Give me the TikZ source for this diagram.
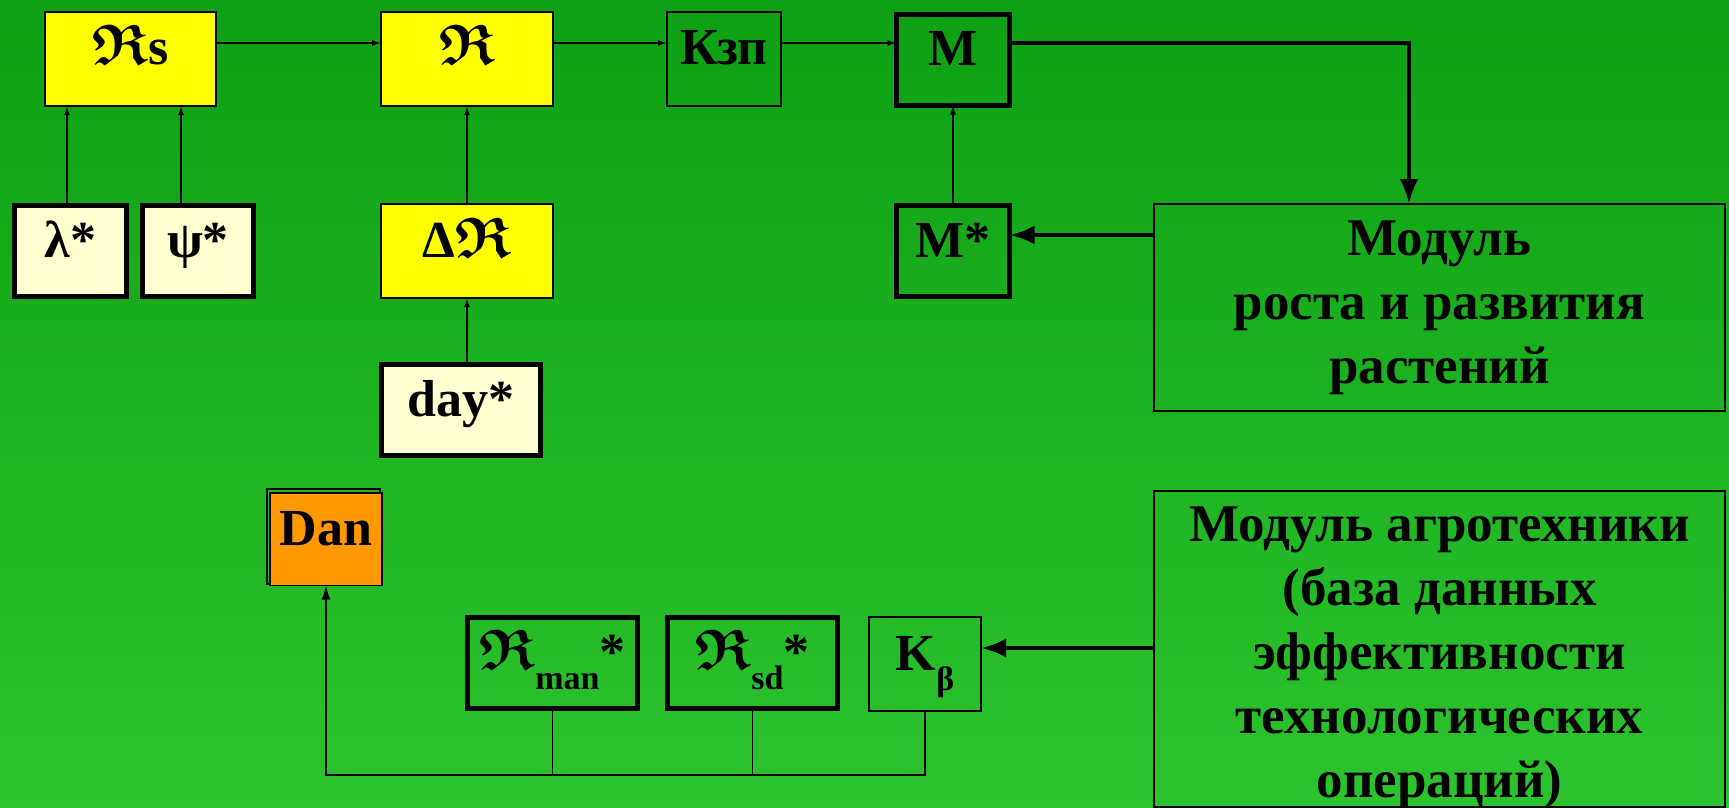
\documentclass[tikz,border=0pt]{standalone}
\usepackage{fontspec}
\setmainfont{Liberation Serif}
\usetikzlibrary{arrows.meta,calc}
\DeclareFontFamily{U}{myfrak}{}
\DeclareFontShape{U}{myfrak}{b}{n}{<-> s*[1.1] eufb10}{}
\newcommand\frakR{{\usefont{U}{myfrak}{b}{n}R}}
\newcommand\lab{\fontsize{52}{60}\selectfont\bfseries}
\newcommand\sublab{\fontsize{34}{36}\selectfont\bfseries}
\newcommand\modfont{\fontsize{53}{64}\selectfont\bfseries}
\definecolor{bgtop}{RGB}{14,160,20}
\definecolor{bgbot}{RGB}{44,196,46}
\definecolor{yel}{RGB}{255,255,0}
\definecolor{pale}{RGB}{255,255,208}
\definecolor{orng}{RGB}{255,153,0}
\tikzset{
  box/.style={draw=black, line width=1.8pt, inner sep=0pt, outer sep=0pt,
    anchor=north west, text height=53pt, text depth=41pt, font=\lab},
  heavy/.style={box, line width=5pt, text height=51.5pt, text depth=39.5pt},
  modbox/.style={draw=black, line width=2pt, inner sep=0pt, outer sep=0pt, anchor=north west},
  modtext/.style={inner sep=0pt, align=center, font=\modfont, anchor=north},
  thinarrow/.style={line width=1.6pt, -{Latex[length=9pt,width=6pt]}},
  fatarrow/.style={line width=4.5pt, -{Latex[length=25pt,width=19pt]}},
  wire/.style={line width=1.6pt},
}
\begin{document}
\begin{tikzpicture}[x=1pt,y=-1pt]
\shade[top color=bgtop, bottom color=bgbot] (0,0) rectangle (1729,808);
\useasboundingbox (0,0) rectangle (1729,808);

% top row
\node[box, fill=yel, minimum width=171pt] (Rs) at (45,12) {\frakR s};
\node[box, fill=yel, minimum width=172pt] (R) at (381,12) {\frakR};
\node[box, minimum width=114pt] (Kzp) at (667,12) {Кзп};
\node[heavy, minimum width=113pt] (M) at (896.5,14.5) {M};

% second row
\node[heavy, fill=pale, minimum width=112pt] (lam) at (14.5,205.5) {λ*};
\node[heavy, fill=pale, minimum width=111pt] (psi) at (142.5,205.5) {ψ*};
\node[box, fill=yel, minimum width=172pt] (dR) at (381,204) {Δ\frakR};
\node[heavy, fill=pale, minimum width=159pt] (day) at (381.5,364.5) {day*};
\node[heavy, minimum width=113pt] (Ms) at (896.5,205.5) {M*};

% modules
\node[modbox, minimum width=571pt, minimum height=207pt] (RG) at (1154,204) {};
\node[modtext] (RGt) at ($(RG.north)+(0,17)$) {Модуль\\роста и развития\\растений};
\node[modbox, minimum width=571pt, minimum height=316pt] (AG) at (1154,491) {};
\node[modtext] (AGt) at ($(AG.north)+(0,16)$) {Модуль агротехники\\(база данных\\эффективности\\технологических\\операций)};

% bottom
\draw[line width=1.2pt] (267,489) rectangle (380,584);
\node[box, fill=orng, minimum width=112pt, text height=52pt, text depth=40.5pt] (Dan) at (270,493) {Dan};
\node[heavy, minimum width=170pt] (Rman) at (467.5,617.5) {\frakR\raisebox{-20pt}{\sublab man}*};
\node[heavy, minimum width=170pt] (Rsd) at (667.5,617.5) {\frakR\raisebox{-20pt}{\sublab sd}*};
\node[box, minimum width=112pt] (Kb) at (869,617) {K\raisebox{-20pt}{\sublab β}};

% connectors
\coordinate (row1) at (0,43);
\coordinate (turn) at (1409,43);
\coordinate (row2) at (0,235);
\coordinate (row3) at (0,648);
\coordinate (bus) at (0,775);
\coordinate (a1) at (67,0);
\coordinate (a2) at (181,0);

\draw[thinarrow] (Rs.east |- row1) -- (R.west |- row1);
\draw[thinarrow] (R.east |- row1) -- (Kzp.west |- row1);
\draw[thinarrow] (Kzp.east |- row1) -- (M.west |- row1);
\draw[fatarrow] (M.east |- turn) -- (turn) -- (turn |- RG.north);

\draw[thinarrow] (lam.north -| a1) -- (Rs.south -| a1);
\draw[thinarrow] (psi.north -| a2) -- (Rs.south -| a2);
\draw[thinarrow] (dR.north) -- (R.south);
\draw[thinarrow] (day.north -| dR.south) -- (dR.south);
\draw[thinarrow] (Ms.north) -- (M.south);
\draw[fatarrow] (RG.west |- row2) -- (Ms.east |- row2);
\draw[fatarrow] (AG.west |- row3) -- (Kb.east |- row3);

\draw[wire] (Rman.south) -- (Rman.south |- bus);
\draw[wire] (Rsd.south) -- (Rsd.south |- bus);
\draw[line width=1.6pt, -{Latex[length=14pt,width=9pt]}] (Kb.south) -- (Kb.south |- bus) -- (Dan.south |- bus) -- (Dan.south);
\end{tikzpicture}
\end{document}
